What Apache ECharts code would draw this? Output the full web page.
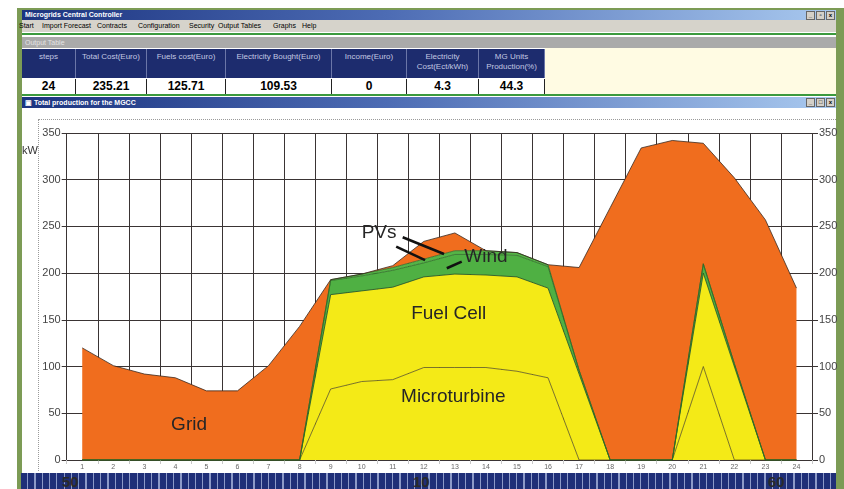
<!DOCTYPE html>
<html>
<head>
<meta charset="utf-8">
<script src="https://cdn.jsdelivr.net/npm/echarts@6/dist/echarts.min.js"></script>
<style>
  html, body { margin:0; padding:0; width:844px; height:489px; overflow:hidden; background:#fff; font-family:"Liberation Sans", Arial, sans-serif; }
  .abs { position:absolute; }
  #frameL { left:17px; top:8px; width:5px; height:481px; background:#7c9b55; }
  #frameR { left:836px; top:8px; width:8px; height:481px; background:#7c9b55; }
  #frameT { left:17px; top:8px; width:827px; height:2px; background:#7c9b55; }
  .titlebar { left:22px; width:814px; background:linear-gradient(90deg,#1c3480 0%,#4d6cb4 45%,#a9c9ef 100%); color:#fff; font-weight:bold; font-size:7px; line-height:10px; padding-left:3px; box-sizing:border-box; }
  .btns { position:absolute; right:1px; top:1px; display:flex; gap:1px; }
  .btn { width:7px; height:7px; background:#d4d0c8; border:1px solid #666; font-size:6px; line-height:7px; color:#000; text-align:center; }
  #menu { left:22px; top:20px; width:814px; height:12px; background:#d6d3cb; font-size:7px; line-height:12px; color:#000; white-space:nowrap; }
  #menu span { position:absolute; top:0; }
  .gline { left:22px; width:814px; height:2px; background:#3b9a3e; }
  #otbar { left:22px; top:37px; width:814px; height:11px; background:#aaaaaa; color:#e4e4e4; font-size:7px; line-height:11px; padding-left:3px; box-sizing:border-box; }
  #cream { left:545px; top:48px; width:291px; height:46px; background:#fffbe3; }
  .hcell { top:49px; height:29px; background:#1d2c6e; color:#c3c8e2; font-size:8px; line-height:10px; text-align:center; padding-top:3px; box-sizing:border-box; border-right:1px solid #6b76a8; }
  .vcell { top:79px; height:15px; background:#fff; color:#000; font-weight:bold; font-size:12px; line-height:15px; text-align:center; border-right:1px solid #222; box-sizing:border-box; }
  #chartbg { left:22px; top:108px; width:814px; height:364px; background:#fff; }
  #dots { left:38px; top:119px; width:798px; height:352px; border-left:1px dotted #9a9a9a; border-top:1px dotted #9a9a9a; box-sizing:border-box; }
  #bottombar { left:21px; top:473px; width:815px; height:16px; background:repeating-linear-gradient(90deg,#1f2f78 0px,#1f2f78 6px,#8c9ac8 6px,#8c9ac8 7.3px); }
  .bnum { top:475px; font-size:15px; font-weight:bold; color:#2a2a2a; line-height:14px; }
  #chart { left:0; top:0; width:844px; height:489px; }
</style>
</head>
<body>
<div class="abs" id="frameT"></div>
<div class="abs" id="frameL"></div>
<div class="abs" id="frameR"></div>

<div class="abs titlebar" style="top:10px;height:10px;">Microgrids Central Controller
  <div class="btns"><div class="btn">_</div><div class="btn">▫</div><div class="btn">x</div></div>
</div>
<div class="abs" id="menu">
  <span style="left:-3px">Start</span>
  <span style="left:20px">Import Forecast</span>
  <span style="left:75px">Contracts</span>
  <span style="left:116px">Configuration</span>
  <span style="left:167px">Security</span>
  <span style="left:196px">Output Tables</span>
  <span style="left:251px">Graphs</span>
  <span style="left:280px">Help</span>
</div>
<div class="abs gline" style="top:33px;"></div>
<div class="abs" id="otbar">Output Table</div>
<div class="abs" id="cream"></div>

<div class="abs hcell" style="left:22px;width:54px;">steps</div>
<div class="abs hcell" style="left:76px;width:71px;">Total Cost(Euro)</div>
<div class="abs hcell" style="left:147px;width:79px;">Fuels cost(Euro)</div>
<div class="abs hcell" style="left:226px;width:106px;">Electricity Bought(Euro)</div>
<div class="abs hcell" style="left:332px;width:75px;">Income(Euro)</div>
<div class="abs hcell" style="left:407px;width:72px;">Electricity<br>Cost(Ect/kWh)</div>
<div class="abs hcell" style="left:479px;width:66px;">MG Units<br>Production(%)</div>

<div class="abs vcell" style="left:22px;width:54px;">24</div>
<div class="abs vcell" style="left:76px;width:71px;">235.21</div>
<div class="abs vcell" style="left:147px;width:79px;">125.71</div>
<div class="abs vcell" style="left:226px;width:106px;">109.53</div>
<div class="abs vcell" style="left:332px;width:75px;">0</div>
<div class="abs vcell" style="left:407px;width:72px;">4.3</div>
<div class="abs vcell" style="left:479px;width:66px;">44.3</div>

<div class="abs gline" style="top:94px;"></div>
<div class="abs titlebar" style="top:97px;height:11px;line-height:11px;">▣ Total production for the MGCC
  <div class="btns"><div class="btn">_</div><div class="btn">□</div><div class="btn">x</div></div>
</div>
<div class="abs" id="chartbg"></div>
<div class="abs" id="dots"></div>
<div class="abs" id="bottombar"></div>
<div class="abs bnum" style="left:62px;">50</div>
<div class="abs bnum" style="left:413px;">10</div>
<div class="abs bnum" style="left:768px;">60</div>

<div class="abs" id="chart"></div>

<script>
// ---- data (kW per hour) ----
const hours = ['1','2','3','4','5','6','7','8','9','10','11','12','13','14','15','16','17','18','19','20','21','22','23','24'];
const microturbine = [0,0,0,0,0,0,0,0,76,84,86,99,99,99,95,88,0,0,0,0,100,0,0,0];
const fuelCell     = [0,0,0,0,0,0,0,0,101,97,99,97,100,99,101,96,92,0,0,0,100,100,0,0];
const wind         = [0,0,0,0,0,0,0,0,15,16,18,15,21,22,23,23,4,0,0,0,10,3,0,0];
const pvs          = [0,0,0,0,0,0,0,0,1,2,3,4,4,4,3,2,0,0,0,0,0,0,0,0];
const grid         = [120,101,92,88,74,74,101,143,0,0,2,19,19,0,0,0,110,270,334,342,129,199,257,184];
const yTicks = { min: 0, max: 350, interval: 50 };

const chart = echarts.init(document.getElementById('chart'), null, { renderer: 'canvas' });

function areaSeries(name, data, fill, line, lw) {
  return {
    name, type: 'line', stack: 'total', data,
    showSymbol: false, symbol: 'none',
    lineStyle: { color: line, width: lw },
    areaStyle: { color: fill, opacity: 1 },
    emphasis: { disabled: true },
    silent: true
  };
}

const gridColor = '#3a3434';
chart.setOption({
  animation: false,
  backgroundColor: 'transparent',
  grid: { left: 66.7, right: 32, top: 133, bottom: 29 },
  xAxis: {
    type: 'category', data: hours, boundaryGap: true,
    axisLine: { show: false },
    axisTick: { show: true, length: 4, lineStyle: { color: '#c8c8c8' } },
    axisLabel: { fontSize: 7, color: '#666', margin: 4, fontFamily: 'Liberation Sans' },
    splitLine: { show: true, interval: 0, lineStyle: { color: gridColor, width: 1 } }
  },
  yAxis: [
    {
      type: 'value', position: 'left', min: yTicks.min, max: yTicks.max, interval: yTicks.interval,
      axisLine: { show: false },
      axisTick: { show: true, length: 5, lineStyle: { color: gridColor } },
      axisLabel: { fontSize: 11, color: '#444', margin: 6, fontFamily: 'Liberation Sans' },
      splitLine: { show: true, lineStyle: { color: gridColor, width: 1 } }
    },
    {
      type: 'value', position: 'right', min: yTicks.min, max: yTicks.max, interval: yTicks.interval,
      axisLine: { show: false },
      axisTick: { show: true, length: 6, lineStyle: { color: gridColor } },
      axisLabel: { fontSize: 11, color: '#444', margin: 7, fontFamily: 'Liberation Sans' },
      splitLine: { show: false }
    }
  ],
  series: [
    areaSeries('Microturbine', microturbine, '#f4ea17', '#5a5320', 0.8),
    areaSeries('Fuel Cell', fuelCell, '#f4ea17', '#2f5a22', 0.9),
    areaSeries('Wind', wind, '#4fb043', '#2f6b27', 0.8),
    areaSeries('PVs', pvs, '#55b447', '#2f6b27', 0.8),
    areaSeries('Grid', grid, '#f06d1e', '#3a2a20', 0.8)
  ]
});

// annotations placed in data space via the axes
const x0 = chart.convertToPixel({ xAxisIndex: 0 }, 0);
const x1 = chart.convertToPixel({ xAxisIndex: 0 }, 1);
const px = h => x0 + (h - 1) * (x1 - x0);
const py = v => chart.convertToPixel({ yAxisIndex: 0 }, v);

function label(text, h, v) {
  return { type: 'text', x: px(h), y: py(v), silent: true, z: 100,
    style: { text, fill: '#262626', font: '19px "Liberation Sans", Arial, sans-serif', textAlign: 'center', textVerticalAlign: 'middle' } };
}
function leader(h1, v1, h2, v2) {
  return { type: 'line', silent: true, z: 100,
    shape: { x1: px(h1), y1: py(v1), x2: px(h2), y2: py(v2) },
    style: { stroke: '#111', lineWidth: 2.6 } };
}

chart.setOption({
  graphic: [
    label('Grid', 4.44, 38),
    label('Fuel Cell', 12.8, 157),
    label('Microturbine', 12.95, 68),
    label('PVs', 10.56, 243),
    label('Wind', 14.0, 217),
    leader(11.32, 238.4, 12.65, 220.5),
    leader(11.11, 228.4, 12.04, 214),
    leader(12.74, 205.2, 13.22, 212.3),
    { type: 'text', left: 22, top: 145, silent: true, z: 100,
      style: { text: 'kW', fill: '#333', font: '11px "Liberation Sans", Arial, sans-serif' } }
  ]
});
</script>
</body>
</html>
